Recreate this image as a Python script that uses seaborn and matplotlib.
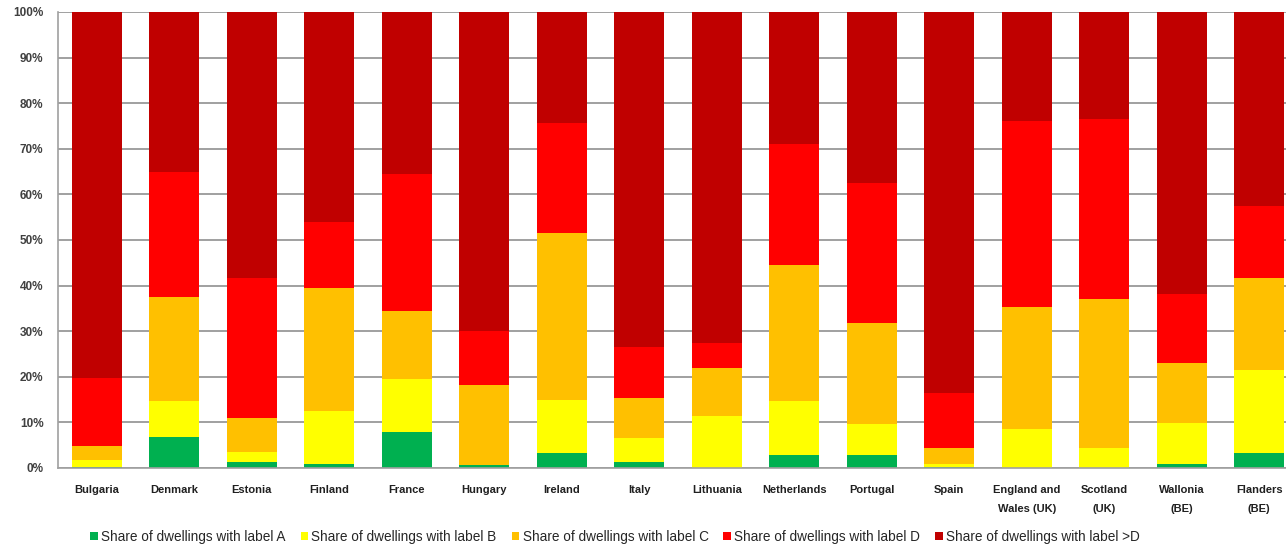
import numpy as np
import pandas as pd
import matplotlib
matplotlib.use("Agg")
import matplotlib.pyplot as plt
import seaborn as sns
from matplotlib.ticker import PercentFormatter

countries = ["Bulgaria", "Denmark", "Estonia", "Finland", "France", "Hungary",
             "Ireland", "Italy", "Lithuania", "Netherlands", "Portugal", "Spain",
             "England and\nWales (UK)", "Scotland\n(UK)", "Wallonia\n(BE)", "Flanders\n(BE)"]

share_A = [0.2, 6.7, 1.4, 0.8, 7.8, 0.6, 3.3, 1.3, 0.0, 2.8, 2.8, 0.2, 0.0, 0.0, 0.8, 3.3]
share_B = [1.6, 8.0, 2.2, 11.7, 11.8, 0.1, 11.6, 5.2, 11.3, 11.9, 6.8, 0.6, 8.5, 4.3, 9.1, 18.3]
share_C = [3.0, 22.9, 7.4, 27.0, 14.8, 17.5, 36.6, 8.9, 10.6, 29.9, 22.1, 3.6, 26.7, 32.8, 13.2, 20.1]
share_D = [14.9, 27.4, 30.6, 14.5, 30.0, 11.8, 24.2, 11.1, 5.6, 26.5, 30.7, 12.0, 40.9, 39.4, 15.1, 15.7]
share_E = [80.3, 35.0, 58.4, 46.0, 35.6, 70.0, 24.3, 73.5, 72.5, 28.9, 37.6, 83.6, 23.9, 23.5, 61.8, 42.6]

labels = ["Share of dwellings with label A", "Share of dwellings with label B",
          "Share of dwellings with label C", "Share of dwellings with label D",
          "Share of dwellings with label >D"]
colors = ["#00B050", "#FFFF00", "#FFC000", "#FF0000", "#C00000"]

shares = np.array([share_A, share_B, share_C, share_D, share_E])
cum = np.cumsum(shares, axis=0)

df = pd.DataFrame({"country": countries})
for i in range(5):
    df[f"c{i}"] = cum[i]

sns.set_theme(style="white")
plt.rcParams['font.family'] = ['Liberation Sans', 'DejaVu Sans']

fig = plt.figure(figsize=(12.86, 5.46), dpi=100)
ax = fig.add_axes([58/1286, 78/546, 1240/1286, 456/546])

for i in range(4, -1, -1):
    sns.barplot(data=df, x="country", y=f"c{i}", color=colors[i], saturation=1,
                width=0.645, ax=ax, label=labels[i], linewidth=0, edgecolor="none")

ax.set_xlim(-0.5, 15.5)
ax.set_ylim(0, 100)
ax.set_yticks(np.arange(0, 101, 10))
ax.yaxis.set_major_formatter(PercentFormatter(100, decimals=0))
ax.set_axisbelow(True)
ax.grid(axis="y", color="#A0A0A0", linewidth=1.4)
ax.set_xlabel("")
ax.set_ylabel("")
for s in ["top", "right"]:
    ax.spines[s].set_visible(False)
for s in ["left", "bottom"]:
    ax.spines[s].set_color("#A0A0A0")
    ax.spines[s].set_linewidth(1.2)
ax.tick_params(axis="y", length=0, pad=10.5, labelsize=8.5, colors="#404040")
ax.tick_params(axis="x", length=0, pad=12.5, labelsize=8, colors="#202020")
for t in ax.get_yticklabels():
    t.set_fontweight("bold")
for t in ax.get_xticklabels():
    t.set_fontweight("bold")
    t.set_linespacing(2.1)
    t.set_verticalalignment("top")

h, l = ax.get_legend_handles_labels()
order = [l.index(lab) for lab in labels]
ax.legend([h[k] for k in order], [l[k] for k in order], loc="center",
          bbox_to_anchor=(615/1286, 9/546), bbox_transform=fig.transFigure,
          ncol=5, frameon=False, fontsize=9.8, handlelength=0.55, handleheight=0.55,
          handletextpad=0.25, columnspacing=1.1)

fig.savefig("out.png", dpi=100)
